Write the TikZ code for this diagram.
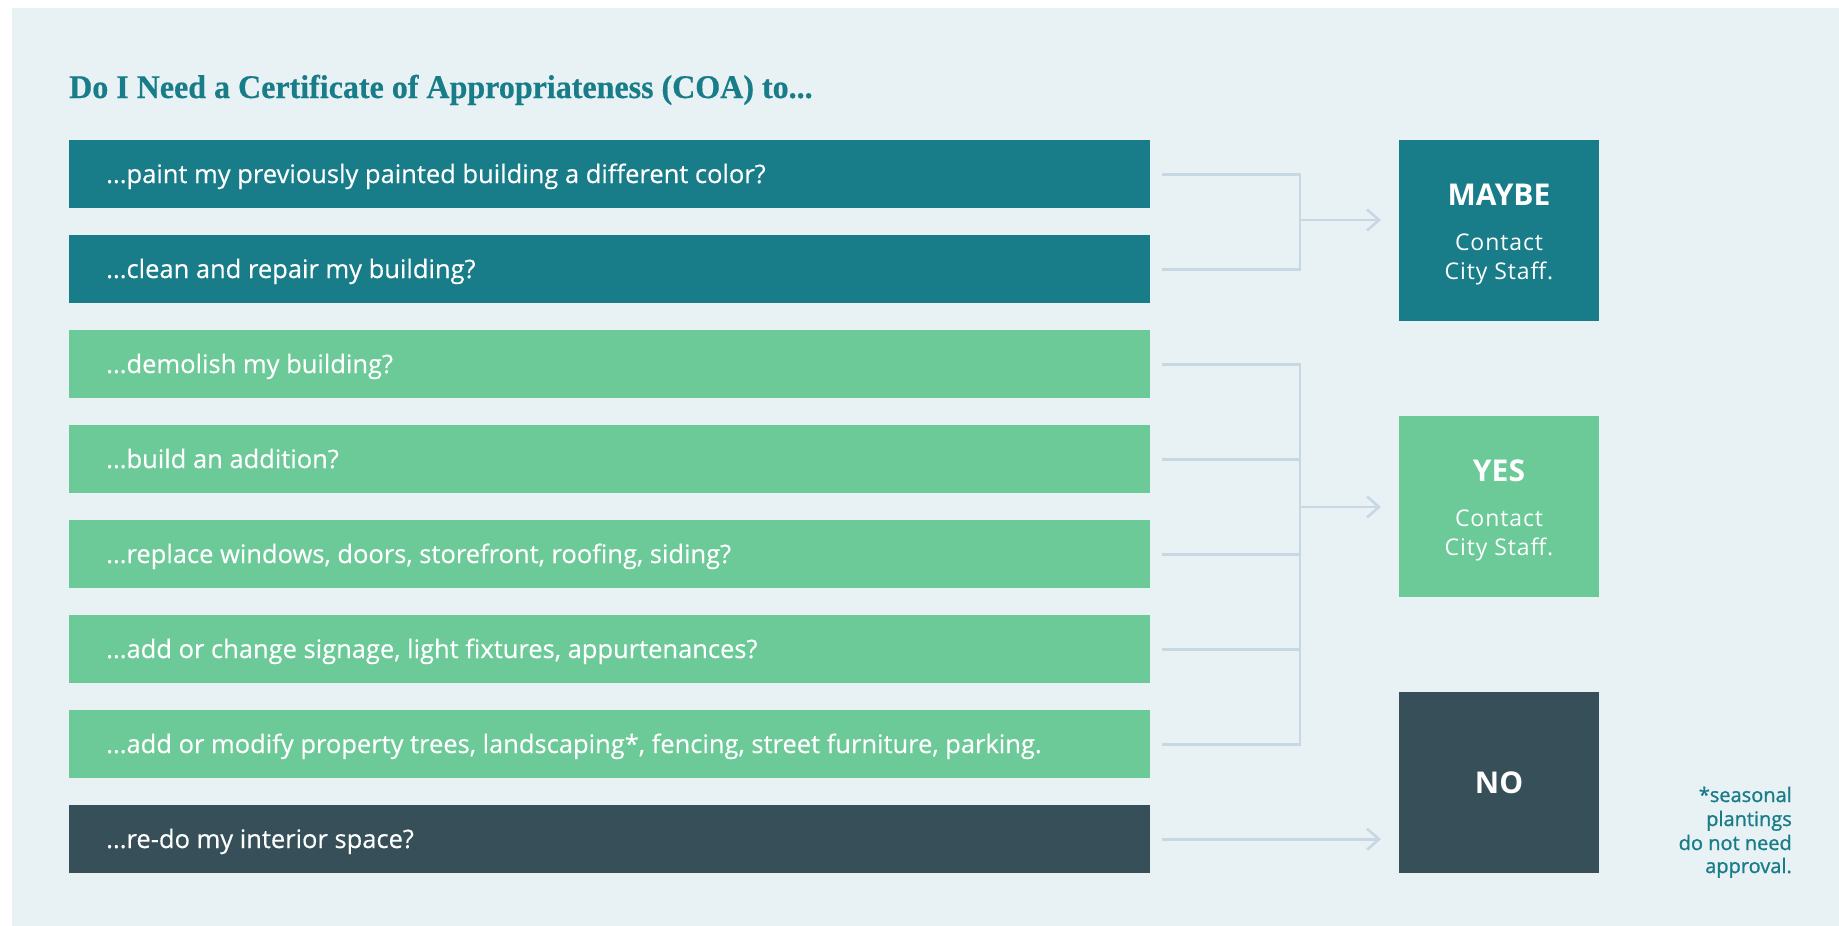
\documentclass[tikz,border=0pt]{standalone}
\usepackage{fontspec}
\setmainfont{Open Sans}
\newfontfamily\titlefont[FakeStretch=0.97,FakeBold=0.5]{Liberation Serif}
\usetikzlibrary{arrows.meta}
\definecolor{panel}{HTML}{E8F1F4}
\definecolor{teal}{HTML}{187D89}
\definecolor{mint}{HTML}{6CCA98}
\definecolor{slate}{HTML}{374F58}
\definecolor{wire}{HTML}{C8D7E4}
\tikzset{
  qbox/.style={rectangle, inner sep=0pt, minimum width=1081pt, minimum height=68pt, anchor=north west},
  qtext/.style={anchor=base west, text=white, inner sep=0pt,
    font=\fontsize{25.5}{30}\selectfont\addfontfeature{FakeBold=0.4}},
  rbox/.style={rectangle, inner sep=0pt, minimum width=200pt, minimum height=181pt, anchor=north west},
  rhead/.style={anchor=base, text=white, inner sep=0pt, font=\fontsize{30}{36}\selectfont\bfseries},
  rsub/.style={anchor=base, text=white, inner sep=0pt,
    font=\fontsize{23}{29}\selectfont\addfontfeature{LetterSpace=4}},
  noteline/.style={anchor=base east, inner sep=0pt, text=teal,
    font=\fontsize{20}{24}\selectfont\addfontfeature{FakeBold=1.1}},
  conn/.style={draw=wire, line width=2.6pt, line join=miter},
  tip/.style={-{Straight Barb[length=12pt,width=21pt,line width=2.6pt]}},
}
\begin{document}
\begin{tikzpicture}[x=1pt,y=-1pt]
\useasboundingbox (0,0) rectangle (1839,926);
\fill[panel] (12,8) rectangle (1839,926);

% title
\node[anchor=base west, inner sep=0pt, text=teal, font=\titlefont\fontsize{33}{40}\selectfont\bfseries] (title) at (69,98) {Do I Need a Certificate of Appropriateness (COA) to...};

% question bars
\node[qbox, fill=teal]  (q1) at (69,140) {};
\node[qbox, fill=teal]  (q2) at (69,235) {};
\node[qbox, fill=mint]  (q3) at (69,330) {};
\node[qbox, fill=mint]  (q4) at (69,425) {};
\node[qbox, fill=mint]  (q5) at (69,520) {};
\node[qbox, fill=mint]  (q6) at (69,615) {};
\node[qbox, fill=mint]  (q7) at (69,710) {};
\node[qbox, fill=slate] (q8) at (69,805) {};

\node[qtext] (t1) at (106,183) {...paint my previously painted building a different color?};
\node[qtext] (t2) at (106,278) {...clean and repair my building?};
\node[qtext] (t3) at (106,373) {...demolish my building?};
\node[qtext] (t4) at (106,468) {...build an addition?};
\node[qtext] (t5) at (106,563) {...replace windows, doors, storefront, roofing, siding?};
\node[qtext] (t6) at (106,658) {...add or change signage, light fixtures, appurtenances?};
\node[qtext] (t7) at (106,753) {...add or modify property trees, landscaping*, fencing, street furniture, parking.};
\node[qtext] (t8) at (106,848) {...re-do my interior space?};

% answer boxes
\node[rbox, fill=teal]  (r1) at (1399,140) {};
\node[rbox, fill=mint]  (r2) at (1399,416) {};
\node[rbox, fill=slate] (r3) at (1399,692) {};

\node[rhead] (h1) at (1499,205) {MAYBE};
\node[rsub]  (s1a) at (1499,250) {Contact};
\node[rsub]  (s1b) at (1499,279) {City Staff.};
\node[rhead] (h2) at (1499,481) {YES};
\node[rsub]  (s2a) at (1499,526) {Contact};
\node[rsub]  (s2b) at (1499,555) {City Staff.};
\node[rhead] (h3) at (1499,793) {NO};

% footnote, right aligned
\node[noteline] (n1) at (1792,802) {*seasonal};
\node[noteline] (n2) at (1792,826) {plantings};
\node[noteline] (n3) at (1792,850) {do not need};
\node[noteline] (n4) at (1792,873) {approval.};

% connectors
\coordinate (mj) at (1300,220);
\coordinate (yj) at (1300,507);
\draw[conn] ([xshift=12pt]q1.east) -| (mj) |- ([xshift=12pt]q2.east);
\draw[conn,tip] (mj) -- ([xshift=-18pt]mj -| r1.west);
\draw[conn] ([xshift=12pt]q3.east) -| (yj) |- ([xshift=12pt]q7.east);
\draw[conn] ([xshift=12pt]q4.east) -- (q4.east -| yj);
\draw[conn] ([xshift=12pt]q5.east) -- (q5.east -| yj);
\draw[conn] ([xshift=12pt]q6.east) -- (q6.east -| yj);
\draw[conn,tip] (yj) -- ([xshift=-18pt]yj -| r2.west);
\draw[conn,tip] ([xshift=12pt]q8.east) -- ([xshift=-18pt]q8.east -| r3.west);
\end{tikzpicture}
\end{document}
